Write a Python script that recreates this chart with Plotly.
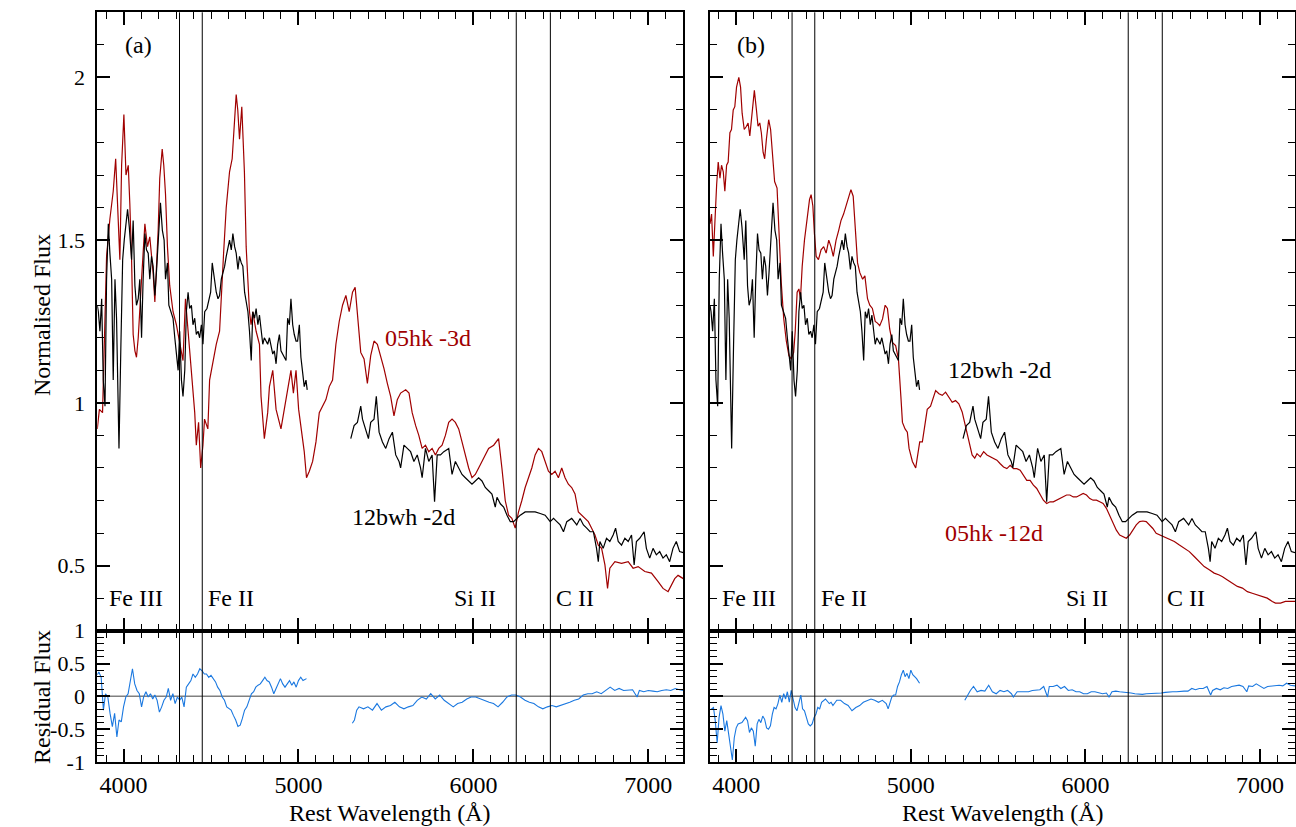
import plotly.graph_objects as go

# ---------------- data ----------------
# 05hk -3d (panel a, red)
hk3_wl = [3850,3856,3862,3880,3894,3903,3922,3941,3955,3970,
          3979,3989,4002,4014,4027,4036,4046,4055,4065,4074,
          4084,4103,4122,4137,4150,4169,4179,4198,4207,4221,
          4230,4240,4251,4264,4283,4302,4321,4340,4354,4369,
          4388,4407,4416,4429,4441,4454,4463,4482,4492,4511,
          4530,4549,4558,4572,4587,4606,4621,4634,4644,4653,
          4663,4676,4691,4701,4710,4720,4729,4739,4758,4777,
          4786,4805,4824,4834,4853,4872,4900,4919,4938,4957,
          4971,4986,5001,5014,5033,5046,5062,5081,5100,5119,
          5138,5157,5176,5195,5214,5233,5252,5271,5290,5309,
          5324,5337,5356,5375,5394,5413,5432,5451,5470,5489,
          5508,5527,5546,5565,5584,5613,5632,5650,5670,5688,
          5707,5726,5745,5764,5783,5802,5821,5840,5859,5878,
          5897,5916,5935,5954,5973,5992,6011,6030,6049,6068,
          6087,6116,6144,6163,6182,6201,6220,6239,6258,6277,
          6296,6315,6334,6353,6372,6391,6410,6429,6448,6467,
          6486,6505,6524,6543,6562,6581,6600,6619,6638,6657,
          6676,6695,6714,6733,6752,6767,6780,6809,6847,6885,
          6913,6942,6980,7018,7056,7084,7113,7132,7151,7170,
          7200]
hk3_flux = [0.92,0.95,0.98,0.97,1.28,1.45,1.565,1.65,1.75,1.53,
            1.44,1.73,1.886,1.70,1.73,1.61,1.44,1.21,1.16,1.14,
            1.20,1.38,1.55,1.48,1.51,1.40,1.31,1.53,1.69,1.78,
            1.73,1.64,1.48,1.36,1.28,1.24,1.18,1.13,1.32,1.22,
            1.07,0.97,0.87,0.94,0.80,0.87,0.95,0.92,1.07,1.13,
            1.18,1.22,1.33,1.46,1.60,1.71,1.75,1.85,1.947,1.90,
            1.81,1.91,1.71,1.48,1.40,1.28,1.24,1.28,1.22,1.18,
            1.02,0.89,0.97,1.05,1.10,0.98,0.92,0.98,1.03,1.10,
            1.03,1.10,0.98,0.92,0.85,0.77,0.79,0.82,0.88,0.97,
            0.99,1.01,1.05,1.07,1.18,1.25,1.30,1.33,1.28,1.34,
            1.355,1.28,1.155,1.135,1.06,1.145,1.19,1.18,1.145,1.105,
            1.06,1.02,0.96,1.01,1.03,1.04,1.03,0.97,0.93,0.90,
            0.86,0.87,0.85,0.86,0.84,0.86,0.87,0.90,0.94,0.95,
            0.94,0.92,0.88,0.84,0.80,0.77,0.78,0.80,0.82,0.84,
            0.86,0.87,0.89,0.80,0.70,0.655,0.645,0.615,0.665,0.70,
            0.74,0.77,0.80,0.84,0.86,0.85,0.82,0.79,0.78,0.79,
            0.77,0.80,0.77,0.75,0.74,0.72,0.665,0.655,0.645,0.635,
            0.615,0.594,0.563,0.553,0.502,0.43,0.492,0.512,0.507,0.512,
            0.492,0.497,0.482,0.477,0.451,0.43,0.42,0.44,0.46,0.47,
            0.46]

# 12bwh -2d (black, both panels) - blue arm and red arm
bwh_wl1 = [3850,3856,3865,3875,3884,3894,3903,3913,3922,3932,
           3941,3951,3960,3974,3985,3995,4004,4014,4023,4033,
           4046,4055,4065,4074,4084,4093,4103,4112,4122,4131,
           4141,4150,4160,4169,4179,4188,4198,4211,4222,4232,
           4240,4251,4259,4270,4283,4293,4302,4312,4321,4331,
           4340,4350,4359,4369,4378,4388,4397,4407,4416,4426,
           4435,4445,4454,4464,4477,4488,4498,4507,4521,4530,
           4540,4549,4559,4568,4578,4587,4597,4606,4616,4625,
           4635,4644,4654,4663,4673,4682,4692,4701,4711,4720,
           4730,4739,4749,4758,4768,4777,4787,4796,4805,4815,
           4824,4834,4843,4853,4862,4872,4881,4891,4900,4910,
           4919,4929,4938,4948,4957,4967,4976,4986,4995,5005,
           5014,5024,5033,5043,5050]
bwh_f1 = [1.30,1.28,1.22,1.32,1.07,0.99,1.38,1.55,1.46,1.38,
          1.07,1.38,1.26,0.86,1.18,1.44,1.50,1.56,1.595,1.54,
          1.44,1.56,1.36,1.30,1.32,1.38,1.20,1.38,1.52,1.47,
          1.46,1.38,1.45,1.42,1.33,1.40,1.48,1.615,1.53,1.50,
          1.38,1.43,1.30,1.28,1.26,1.20,1.16,1.10,1.22,1.07,
          1.02,1.10,1.28,1.34,1.29,1.30,1.24,1.26,1.21,1.22,
          1.20,1.24,1.18,1.28,1.29,1.32,1.34,1.43,1.38,1.34,
          1.32,1.33,1.38,1.40,1.42,1.45,1.48,1.50,1.47,1.52,
          1.48,1.46,1.41,1.45,1.43,1.42,1.34,1.31,1.28,1.22,
          1.13,1.28,1.26,1.29,1.24,1.27,1.22,1.18,1.20,1.19,
          1.18,1.20,1.18,1.15,1.16,1.12,1.18,1.21,1.16,1.15,
          1.14,1.13,1.26,1.24,1.32,1.24,1.21,1.19,1.19,1.24,
          1.14,1.10,1.05,1.07,1.04]
bwh_wl2 = [5299,5318,5337,5356,5366,5385,5400,5413,5432,5445,
           5461,5480,5499,5518,5537,5556,5575,5584,5603,5622,
           5641,5660,5679,5698,5707,5726,5745,5764,5778,5793,
           5812,5831,5859,5878,5897,5916,5935,5954,5973,5992,
           6011,6030,6049,6068,6087,6106,6125,6135,6154,6173,
           6192,6211,6230,6249,6268,6296,6325,6353,6382,6410,
           6439,6458,6477,6496,6515,6534,6562,6591,6610,6629,
           6648,6667,6686,6704,6714,6723,6742,6761,6780,6799,
           6813,6828,6847,6866,6885,6904,6919,6932,6951,6976,
           6989,7008,7027,7046,7065,7084,7103,7122,7141,7160,
           7179,7200]
bwh_f2 = [0.89,0.93,0.94,0.99,0.95,0.92,0.89,0.94,0.95,1.02,
          0.91,0.88,0.86,0.89,0.91,0.84,0.82,0.80,0.87,0.86,
          0.85,0.82,0.84,0.80,0.77,0.86,0.82,0.84,0.696,0.84,
          0.84,0.85,0.86,0.78,0.82,0.80,0.78,0.77,0.76,0.75,
          0.76,0.77,0.76,0.74,0.73,0.72,0.68,0.71,0.69,0.68,
          0.655,0.635,0.635,0.645,0.655,0.665,0.665,0.665,0.66,0.655,
          0.635,0.645,0.635,0.625,0.604,0.635,0.645,0.625,0.645,0.625,
          0.615,0.604,0.604,0.553,0.512,0.574,0.553,0.584,0.574,0.594,
          0.615,0.574,0.563,0.584,0.574,0.594,0.502,0.574,0.584,0.604,
          0.553,0.523,0.553,0.533,0.543,0.523,0.533,0.512,0.553,0.574,
          0.543,0.54]

# 05hk -12d (panel b, red)
hk12_wl = [3850,3859,3869,3878,3888,3897,3907,3916,3926,3935,
           3945,3954,3964,3973,3983,3992,4002,4015,4025,4034,
           4046,4059,4068,4078,4087,4097,4104,4116,4125,4135,
           4144,4154,4163,4173,4186,4197,4207,4220,4234,4245,
           4258,4272,4287,4302,4315,4329,4338,4349,4359,4368,
           4378,4391,4404,4420,4429,4439,4448,4458,4471,4486,
           4501,4515,4530,4543,4556,4572,4587,4600,4615,4629,
           4644,4657,4670,4682,4695,4708,4724,4737,4752,4765,
           4780,4796,4809,4822,4838,4853,4866,4879,4894,4913,
           4929,4943,4952,4967,4980,4990,5009,5028,5037,5051,
           5066,5081,5094,5113,5129,5142,5161,5180,5199,5218,
           5237,5256,5275,5294,5313,5332,5351,5366,5379,5398,
           5417,5436,5455,5474,5493,5512,5531,5550,5569,5588,
           5607,5626,5645,5664,5683,5702,5721,5740,5759,5778,
           5797,5816,5835,5854,5873,5892,5911,5930,5949,5968,
           5987,6006,6025,6044,6063,6082,6101,6120,6139,6158,
           6177,6196,6215,6234,6253,6272,6291,6310,6329,6348,
           6367,6386,6405,6424,6443,6462,6481,6509,6538,6566,
           6595,6623,6652,6680,6709,6737,6766,6785,6813,6842,
           6870,6899,6927,6955,6984,7012,7041,7070,7088,7117,
           7145,7174,7200]
hk12_flux = [1.55,1.58,1.45,1.58,1.67,1.74,1.69,1.73,1.71,1.65,
             1.73,1.74,1.83,1.84,1.90,1.91,1.97,2.00,1.97,1.89,
             1.84,1.85,1.86,1.82,1.87,1.93,1.96,1.90,1.85,1.86,
             1.83,1.77,1.75,1.81,1.87,1.84,1.77,1.68,1.66,1.52,
             1.37,1.26,1.19,1.145,1.135,1.155,1.22,1.34,1.35,1.32,
             1.42,1.50,1.55,1.625,1.64,1.605,1.52,1.45,1.44,1.47,
             1.48,1.46,1.50,1.48,1.45,1.50,1.53,1.56,1.58,1.605,
             1.625,1.655,1.635,1.54,1.43,1.40,1.38,1.39,1.32,1.30,
             1.29,1.25,1.245,1.237,1.258,1.30,1.29,1.227,1.186,1.176,
             1.135,1.02,0.94,0.92,0.91,0.86,0.82,0.80,0.83,0.88,
             0.88,0.94,0.98,0.99,1.02,1.038,1.028,1.023,1.033,1.018,
             1.002,1.007,0.997,0.972,0.93,0.89,0.84,0.83,0.844,0.834,
             0.85,0.84,0.834,0.829,0.824,0.813,0.803,0.798,0.808,0.798,
             0.798,0.793,0.778,0.762,0.762,0.747,0.737,0.717,0.701,0.691,
             0.696,0.696,0.701,0.706,0.711,0.717,0.717,0.711,0.711,0.717,
             0.722,0.717,0.706,0.701,0.701,0.696,0.691,0.676,0.655,0.635,
             0.609,0.594,0.589,0.584,0.594,0.609,0.625,0.635,0.637,0.635,
             0.625,0.614,0.599,0.594,0.589,0.584,0.579,0.574,0.563,0.553,
             0.543,0.528,0.512,0.497,0.487,0.477,0.471,0.466,0.456,0.446,
             0.436,0.431,0.42,0.415,0.41,0.405,0.40,0.39,0.385,0.385,
             0.39,0.39,0.39]

# Residuals, panel a
res_a_wl1 = [3850,3859,3872,3885,3897,3910,3923,3936,3949,3962,
             3974,3987,4000,4013,4026,4038,4051,4064,4077,4090,
             4103,4115,4128,4141,4154,4167,4179,4192,4205,4218,
             4231,4244,4256,4269,4282,4295,4308,4321,4333,4346,
             4359,4372,4385,4397,4410,4423,4436,4449,4462,4474,
             4487,4500,4513,4526,4538,4551,4564,4577,4590,4603,
             4615,4628,4641,4654,4667,4679,4692,4705,4718,4731,
             4744,4756,4769,4782,4795,4808,4820,4833,4846,4859,
             4872,4885,4897,4910,4923,4936,4949,4962,4974,4987,
             5000,5013,5026,5046]
res_a_r1 = [0.33,0.37,0.29,-0.21,0.04,-0.01,-0.26,-0.46,-0.26,-0.62,
            -0.36,-0.39,-0.16,-0.01,0.04,0.24,0.42,0.19,0.09,0.04,
            -0.16,-0.01,0.07,-0.01,0.04,-0.04,0.02,-0.06,-0.24,-0.16,
            -0.06,-0.01,0.12,-0.06,0.04,-0.11,-0.01,-0.06,-0.01,-0.16,
            0.14,0.19,0.24,0.34,0.29,0.34,0.42,0.39,0.34,0.34,
            0.29,0.32,0.27,0.22,0.14,0.09,-0.01,-0.06,-0.16,-0.19,
            -0.21,-0.29,-0.36,-0.46,-0.44,-0.34,-0.21,-0.16,-0.06,0.04,
            0.07,0.14,0.17,0.19,0.24,0.29,0.24,0.22,0.14,0.04,
            0.12,0.19,0.27,0.19,0.14,0.19,0.24,0.17,0.22,0.14,
            0.24,0.29,0.24,0.27]
res_a_wl2 = [5308,5320,5333,5346,5372,5397,5423,5449,5474,5500,
             5526,5551,5577,5603,5628,5654,5679,5705,5731,5756,
             5782,5808,5833,5859,5885,5910,5936,5962,5987,6013,
             6038,6064,6090,6115,6141,6167,6192,6218,6244,6269,
             6295,6320,6346,6372,6397,6423,6449,6474,6500,6526,
             6551,6577,6602,6628,6654,6679,6705,6731,6756,6782,
             6808,6833,6859,6885,6910,6936,6949,6974,7000,7026,
             7051,7077,7103,7128,7154,7179,7200]
res_a_r2 = [-0.41,-0.36,-0.21,-0.16,-0.19,-0.16,-0.21,-0.11,-0.21,-0.16,
            -0.14,-0.09,-0.16,-0.19,-0.16,-0.14,-0.06,-0.01,-0.04,0.04,
            -0.04,0.02,-0.06,-0.11,-0.16,-0.11,-0.09,-0.04,-0.01,-0.01,
            -0.04,-0.06,-0.09,-0.11,-0.16,-0.09,-0.01,0.02,0.02,-0.01,
            -0.06,-0.09,-0.11,-0.16,-0.19,-0.16,-0.14,-0.16,-0.14,-0.11,
            -0.09,-0.06,-0.04,0.02,0.04,0.04,0.07,0.04,0.09,0.14,
            0.09,0.12,0.09,0.09,0.10,-0.01,0.09,0.07,0.09,0.08,
            0.07,0.09,0.10,0.09,0.12,0.10,0.09]

# Residuals, panel b
res_b_wl1 = [3855,3870,3880,3891,3902,3913,3924,3935,3946,3956,
             3967,3978,3989,4000,4011,4033,4054,4065,4076,4087,
             4098,4109,4120,4130,4141,4152,4163,4174,4185,4196,
             4207,4217,4228,4239,4250,4261,4272,4283,4293,4304,
             4315,4326,4337,4348,4359,4370,4380,4391,4402,4413,
             4424,4435,4446,4457,4467,4478,4489,4511,4533,4543,
             4554,4576,4598,4620,4641,4663,4685,4707,4728,4750,
             4772,4793,4815,4837,4859,4870,4880,4891,4902,4913,
             4924,4935,4946,4957,4967,4978,4989,5000,5011,5022,
             5033,5050]
res_b_r1 = [-0.2,-0.17,-0.37,-0.71,-0.32,-0.14,-0.27,-0.53,-0.37,-0.58,
            -0.79,-0.97,-0.63,-0.48,-0.42,-0.40,-0.32,-0.37,-0.55,-0.48,
            -0.53,-0.76,-0.42,-0.35,-0.40,-0.30,-0.35,-0.48,-0.50,-0.45,
            -0.27,-0.17,-0.19,-0.11,0.02,-0.09,0.04,-0.04,0.07,-0.09,
            0.09,-0.06,-0.17,-0.22,-0.11,0.02,-0.19,-0.22,-0.32,-0.42,
            -0.45,-0.42,-0.32,-0.27,-0.17,-0.19,-0.09,-0.04,-0.11,-0.09,
            -0.14,-0.06,-0.06,-0.11,-0.14,-0.22,-0.17,-0.14,-0.09,-0.06,
            -0.04,-0.06,-0.09,-0.06,-0.11,-0.19,-0.09,-0.01,0.02,0.02,
            0.15,0.22,0.33,0.40,0.30,0.35,0.27,0.40,0.33,0.30,
            0.27,0.20]
res_b_wl2 = [5309,5326,5341,5359,5380,5402,5424,5446,5467,5489,
             5511,5533,5554,5576,5587,5609,5630,5652,5674,5696,
             5717,5739,5761,5783,5793,5815,5837,5859,5880,5902,
             5924,5946,5967,5989,6011,6033,6054,6076,6098,6120,
             6135,6152,6174,6196,6217,6239,6261,6283,6304,6326,
             6348,6370,6391,6413,6435,6457,6478,6500,6522,6544,
             6565,6587,6609,6630,6652,6674,6696,6717,6728,6750,
             6772,6793,6815,6837,6859,6880,6902,6924,6935,6957,
             6978,7000,7022,7043,7065,7087,7109,7130,7152,7174,
             7189,7200]
res_b_r2 = [-0.06,0.02,0.09,0.15,0.07,0.09,0.08,0.17,0.07,0.04,
            0.09,0.07,0.09,0.04,-0.01,0.07,0.07,0.08,0.07,0.09,
            0.09,0.10,0.15,-0.01,0.15,0.15,0.17,0.12,0.15,0.09,
            0.10,0.07,0.07,0.04,0.04,0.07,0.07,0.05,0.04,0.05,
            -0.01,0.07,0.08,0.07,0.06,0.05,0.05,0.04,0.03,0.03,
            0.04,0.04,0.04,0.05,0.05,0.06,0.07,0.07,0.07,0.08,
            0.08,0.08,0.12,0.10,0.12,0.12,0.15,0.02,0.09,0.12,
            0.10,0.13,0.12,0.15,0.16,0.17,0.15,0.07,0.16,0.15,
            0.19,0.16,0.12,0.15,0.16,0.16,0.17,0.16,0.20,0.17,
            0.16,0.16]

# Marked line positions (Å) and labels
line_waves = [4320, 4450, 6245, 6440]
ion_labels = ["Fe III", "Fe II", "Si II", "C II"]
ion_label_wl = [3905, 4472, 5880, 6458]

main_yticks = [0.5, 1, 1.5, 2]
main_yticktext = ["0.5", "1", "1.5", "2"]
res_yticks = [-1, -0.5, 0, 0.5, 1]
res_yticktext = ["-1", "-0.5", "0", "0.5", "1"]
xticks = [4000, 5000, 6000, 7000]
xticktext = ["4000", "5000", "6000", "7000"]

# ---------------- styling ----------------
RED = "#a00000"
BLUE = "#1a78e0"
FONT = "Liberation Serif"

W, H = 1296, 827
def px(x):
    return x / W
def py(y):
    return 1 - y / H

xa_dom = [px(97.3), px(683.3)]
xb_dom = [px(710.0), px(1295.0)]
ymain_dom = [py(630.7), py(12.3)]
yres_dom = [py(762.0), py(630.7)]

fig = go.Figure()

def add(x, y, color, xa, ya, width=1.2):
    fig.add_trace(go.Scatter(x=x, y=y, mode="lines", xaxis=xa, yaxis=ya,
                             line=dict(color=color, width=width), showlegend=False,
                             hoverinfo="skip"))

# panel a
add(hk3_wl, hk3_flux, RED, "x", "y")
add(bwh_wl1, bwh_f1, "black", "x", "y")
add(bwh_wl2, bwh_f2, "black", "x", "y")
add(res_a_wl1, res_a_r1, BLUE, "x2", "y2", 1.1)
add(res_a_wl2, res_a_r2, BLUE, "x2", "y2", 1.1)
# panel b
add(hk12_wl, hk12_flux, RED, "x3", "y3")
add(bwh_wl1, bwh_f1, "black", "x3", "y3")
add(bwh_wl2, bwh_f2, "black", "x3", "y3")
add(res_b_wl1, res_b_r1, BLUE, "x4", "y4", 1.1)
add(res_b_wl2, res_b_r2, BLUE, "x4", "y4", 1.1)

common = dict(showline=True, linewidth=2, linecolor="black", mirror="allticks",
              ticks="inside", tickwidth=1.5, tickcolor="black", showgrid=False,
              zeroline=False, automargin=False)

def xaxis(dom, anchor, labels):
    return dict(common, domain=dom, anchor=anchor, range=[3850, 7200],
                tickmode="array", tickvals=xticks, ticktext=xticktext,
                ticklen=13, showticklabels=labels,
                tickfont=dict(family=FONT, size=24, color="black"),
                minor=dict(tickmode="linear", tick0=0, dtick=100, ticklen=7,
                           ticks="inside", tickwidth=1.2, tickcolor="black"))

def yaxis(dom, anchor, rng, tv, tt, labels):
    return dict(common, domain=dom, anchor=anchor, range=rng,
                tickmode="array", tickvals=tv, ticktext=tt,
                ticklen=13, showticklabels=labels, ticklabelstandoff=6,
                tickfont=dict(family=FONT, size=22, color="black"),
                minor=dict(tickmode="linear", tick0=0, dtick=0.1, ticklen=7,
                           ticks="inside", tickwidth=1.2, tickcolor="black"))

fig.update_layout(
    width=W, height=H, autosize=False,
    margin=dict(l=0, r=0, t=0, b=0, pad=0),
    paper_bgcolor="white", plot_bgcolor="white",
    font=dict(family=FONT, size=22, color="black"),
    xaxis=xaxis(xa_dom, "y", False),
    yaxis=yaxis(ymain_dom, "x", [0.3, 2.2], main_yticks, main_yticktext, True),
    xaxis2=xaxis(xa_dom, "y2", True),
    yaxis2=yaxis(yres_dom, "x2", [-1, 1], res_yticks, res_yticktext, True),
    xaxis3=xaxis(xb_dom, "y3", False),
    yaxis3=yaxis(ymain_dom, "x3", [0.3, 2.2], main_yticks, main_yticktext, False),
    xaxis4=xaxis(xb_dom, "y4", True),
    yaxis4=yaxis(yres_dom, "x4", [-1, 1], res_yticks, res_yticktext, False),
)

shapes = []
for xr, rx, ry in (("x", "x2 domain", "y2"), ("x3", "x4 domain", "y4")):
    for w in line_waves:
        shapes.append(dict(type="line", xref=xr, yref="paper", x0=w, x1=w,
                           y0=yres_dom[0], y1=ymain_dom[1],
                           line=dict(color="black", width=1), layer="above"))
    shapes.append(dict(type="line", xref=rx, yref=ry, x0=0, x1=1, y0=0, y1=0,
                       line=dict(color="#808080", width=1.5), layer="below"))
fig.update_layout(shapes=shapes)

ann = []
def text(x, y, t, xr, yr, color="black", xanchor="left"):
    ann.append(dict(x=x, y=y, xref=xr, yref=yr, text=t, showarrow=False,
                    xanchor=xanchor, yanchor="middle",
                    font=dict(family=FONT, size=24, color=color)))

for xr, yr in (("x", "y"), ("x3", "y3")):
    for lab, wl in zip(ion_labels, ion_label_wl):
        text(wl, 0.40, lab, xr, yr)
text(3995, 2.10, "(a)", "x", "y")
text(3995, 2.10, "(b)", "x3", "y3")
text(5485, 1.20, "05hk -3d", "x", "y", RED)
text(5295, 0.648, "12bwh -2d", "x", "y")
text(5200, 1.10, "12bwh -2d", "x3", "y3")
text(5185, 0.60, "05hk -12d", "x3", "y3", RED)

# axis titles
for xc in ((xa_dom[0] + xa_dom[1]) / 2, (xb_dom[0] + xb_dom[1]) / 2):
    ann.append(dict(x=xc, y=py(813), xref="paper", yref="paper",
                    xanchor="center", yanchor="middle",
                    text="Rest Wavelength (Å)", showarrow=False,
                    font=dict(family=FONT, size=24, color="black")))
ann.append(dict(x=px(42), y=py(315), xref="paper", yref="paper",
                xanchor="center", yanchor="middle",
                text="Normalised Flux", textangle=-90, showarrow=False,
                font=dict(family=FONT, size=24, color="black")))
ann.append(dict(x=px(42), y=py(697), xref="paper", yref="paper",
                xanchor="center", yanchor="middle",
                text="Residual Flux", textangle=-90, showarrow=False,
                font=dict(family=FONT, size=24, color="black")))
fig.update_layout(annotations=ann)

# place the figure at the page's top-left corner (no default body margin)
fig.write_html("out.html",
               config={"displayModeBar": False},
               post_script="document.body.style.margin='0';"
                           "document.body.style.overflow='hidden';")
